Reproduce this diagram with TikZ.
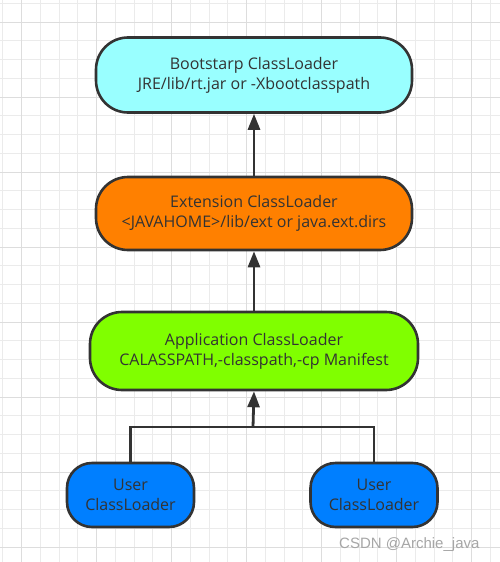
\documentclass[tikz,border=0pt]{standalone}
\usepackage{fontspec}
\setmainfont{Open Sans}
\newfontfamily\wmfont{Liberation Sans}
\usetikzlibrary{arrows.meta}
\definecolor{edge}{HTML}{333333}
\definecolor{txt}{HTML}{333333}
\definecolor{cyanfill}{HTML}{99FFFF}
\definecolor{orangefill}{HTML}{FF8000}
\definecolor{greenfill}{HTML}{80FF00}
\definecolor{bluefill}{HTML}{007FFF}
\definecolor{gridminor}{HTML}{EBEBEB}
\definecolor{gridmajor}{HTML}{DDDDDD}
\tikzset{
  loader/.style={draw=edge, line width=2.6pt, rounded corners=32pt, align=center,
    text=txt, font=\fontsize{16}{20}\selectfont, inner sep=0pt},
  userbox/.style={loader, rounded corners=25pt, minimum width=127pt, minimum height=64pt},
  bigbox/.style={loader, minimum width=316pt, minimum height=75pt},
  conn/.style={draw=edge, line width=2.8pt},
  arr/.style={conn, -{Triangle[length=16pt,width=12pt]}},
}
\begin{document}
\begin{tikzpicture}[x=1pt,y=-1pt]
\useasboundingbox (0,0) rectangle (500,562);
\fill[white] (0,0) rectangle (500,562);
% grid
\foreach \i in {0,...,26} {
  \pgfmathsetmacro\gx{2.7+18.75*\i}
  \draw[gridminor, line width=0.8pt] (\gx,0) -- (\gx,562);
}
\foreach \i in {0,...,29} {
  \pgfmathsetmacro\gy{3.3+18.75*\i}
  \draw[gridminor, line width=0.8pt] (0,\gy) -- (500,\gy);
}
\foreach \i in {0,...,6} {
  \pgfmathsetmacro\gx{21.7+75*\i}
  \draw[gridmajor, line width=0.8pt] (\gx,0) -- (\gx,562);
}
\foreach \i in {0,...,7} {
  \pgfmathsetmacro\gy{22+75*\i}
  \draw[gridmajor, line width=0.8pt] (0,\gy) -- (500,\gy);
}
% nodes
\node[bigbox, fill=cyanfill] (boot) at (254,75) {Bootstarp ClassLoader\\JRE/lib/rt.jar or -Xbootclasspath};
\node[bigbox, fill=orangefill, minimum height=73pt] (ext) at (254,213.5) {Extension ClassLoader\\<JAVAHOME>/lib/ext or java.ext.dirs};
\node[bigbox, fill=greenfill, minimum width=328pt, minimum height=78pt] (app) at (254,351) {Application ClassLoader\\CALASSPATH,-classpath,-cp Manifest};
\node[userbox, fill=bluefill] (u1) at (130.5,495) {User\\ClassLoader};
\node[userbox, fill=bluefill] (u2) at (374,495) {User\\ClassLoader};
\coordinate (j) at (253,427);
% connectors
\draw[arr] (ext.north) -- (boot.south);
\draw[arr] (app.north) -- (ext.south);
\draw[conn] (u1.north) -- (u1.north |- j) -- (u2.north |- j) -- (u2.north);
\draw[arr] (j) -- (app.south);
% watermark
\node[anchor=base west, inner sep=0pt, text=black!35, font=\wmfont\fontsize{15}{18}\selectfont] (wm) at (339,548) {CSDN @Archie\_java};
\end{tikzpicture}
\end{document}
